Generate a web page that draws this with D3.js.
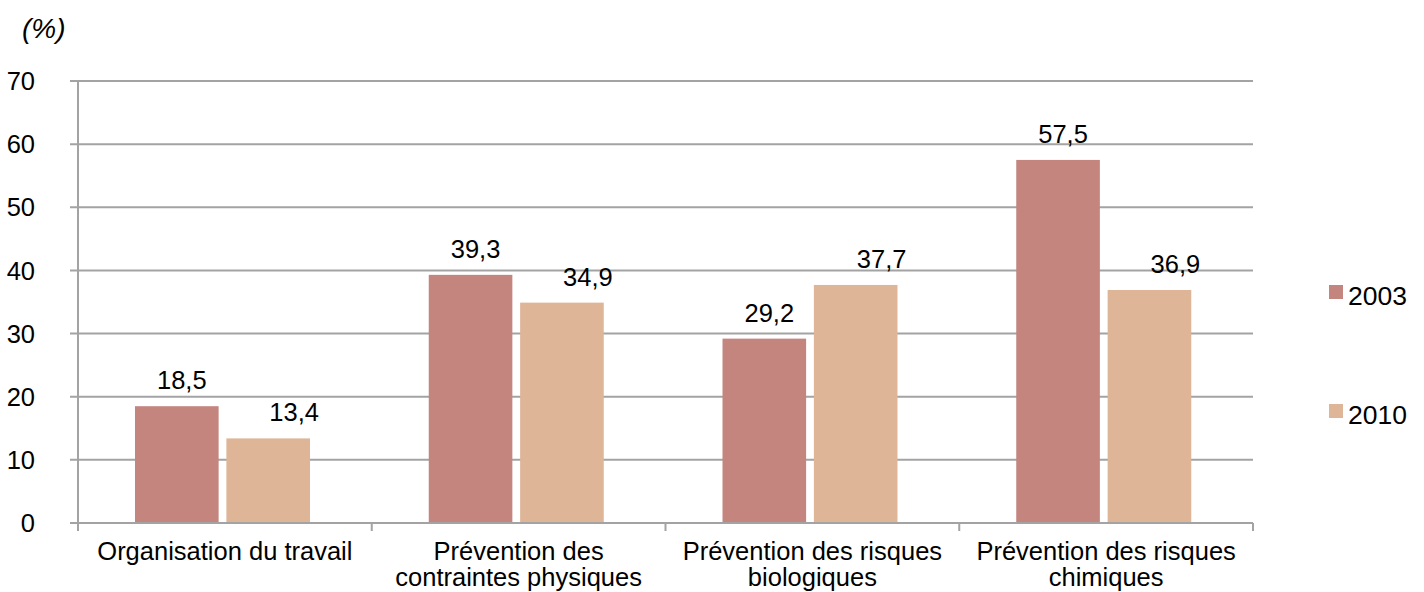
<!DOCTYPE html>
<html>
<head>
<meta charset="utf-8">
<script src="https://cdn.jsdelivr.net/npm/d3@7"></script>
<style>
  html, body { margin: 0; padding: 0; background: #fff; }
  svg { display: block; font-family: "Liberation Sans", Arial, Helvetica, sans-serif; }
</style>
</head>
<body>
<svg id="chart" width="1424" height="592"></svg>
<script>
const categories = [
  ["Organisation du travail"],
  ["Prévention des", "contraintes physiques"],
  ["Prévention des risques", "biologiques"],
  ["Prévention des risques", "chimiques"]
];
const seriesNames = ["2003", "2010"];
const values2003 = [18.5, 39.3, 29.2, 57.5];
const values2010 = [13.4, 34.9, 37.7, 36.9];
const yTicks = [0, 10, 20, 30, 40, 50, 60, 70];
const unitLabel = "(%)";

(function () {
const colors = { "2003": "#C4857F", "2010": "#DFB597" };
const gridColor = "#A3A3A3";
const fontSize = 25.5;

const svg = d3.select("#chart");
const mLeft = 78, mRight = 1253, mTop = 81, mBottom = 523;

const catKeys = categories.map((c, i) => i);
const x0 = d3.scaleBand().domain(catKeys).range([mLeft, mRight]).padding(0);
const x1 = d3.scaleBand().domain(seriesNames).range([57, 232]).paddingInner(0.085).paddingOuter(0);
const y = d3.scaleLinear().domain([0, 70]).range([mBottom, mTop]);

// gridlines
svg.append("g").selectAll("line").data(yTicks).join("line")
  .attr("x1", mLeft - 8).attr("x2", mRight)
  .attr("y1", d => y(d)).attr("y2", d => y(d))
  .attr("stroke", gridColor).attr("stroke-width", 2);

// y axis line
svg.append("line")
  .attr("x1", mLeft).attr("x2", mLeft).attr("y1", y(70)).attr("y2", mBottom + 8)
  .attr("stroke", gridColor).attr("stroke-width", 2);

// x category ticks
const boundaries = catKeys.map(k => x0(k)).concat([mRight]);
svg.append("g").selectAll("line").data(boundaries.slice(1)).join("line")
  .attr("x1", d => d).attr("x2", d => d).attr("y1", mBottom).attr("y2", mBottom + 8)
  .attr("stroke", gridColor).attr("stroke-width", 2);

// y tick labels
svg.append("g").selectAll("text").data(yTicks).join("text")
  .attr("x", 35).attr("y", d => y(d)).attr("dy", "0.36em")
  .attr("text-anchor", "end").attr("font-size", fontSize).attr("fill", "#000")
  .text(d => d);

// unit label
svg.append("text").attr("x", 22).attr("y", 38)
  .attr("font-size", 28).attr("font-style", "italic").attr("fill", "#000")
  .text(unitLabel);

// bars
const data = catKeys.map(i => ({ i, vals: [
  { s: "2003", v: values2003[i] },
  { s: "2010", v: values2010[i] }
]}));

const groups = svg.append("g").selectAll("g").data(data).join("g")
  .attr("transform", d => `translate(${x0(d.i)},0)`);

groups.selectAll("rect").data(d => d.vals).join("rect")
  .attr("x", d => x1(d.s)).attr("width", x1.bandwidth())
  .attr("y", d => y(d.v)).attr("height", d => y(0) - y(d.v) - 1)
  .attr("fill", d => colors[d.s]);

const labelShift = { "2003": 5, "2010": 26 };
groups.selectAll("text.val").data(d => d.vals).join("text")
  .attr("class", "val")
  .attr("x", d => x1(d.s) + x1.bandwidth() / 2 + labelShift[d.s])
  .attr("y", d => y(d.v) - 17)
  .attr("text-anchor", "middle").attr("font-size", fontSize).attr("fill", "#000")
  .text(d => d3.format(".1f")(d.v).replace(".", ","));

// category labels
svg.append("g").selectAll("text").data(catKeys).join("text")
  .attr("text-anchor", "middle").attr("font-size", fontSize).attr("fill", "#000")
  .each(function(d) {
    const t = d3.select(this);
    categories[d].forEach((line, j) => {
      t.append("tspan").attr("x", x0(d) + x0.bandwidth() / 2).attr("y", 560 + j * 26).text(line);
    });
  });

// legend
const legend = svg.append("g").selectAll("g").data(seriesNames).join("g")
  .attr("transform", (d, i) => `translate(1329, ${285 + i * 119})`);
legend.append("rect").attr("width", 14).attr("height", 14).attr("fill", d => colors[d]);
legend.append("text").attr("x", 19).attr("y", 20)
  .attr("font-size", 26.5).attr("fill", "#000").text(d => d);
})();
</script>
</body>
</html>
